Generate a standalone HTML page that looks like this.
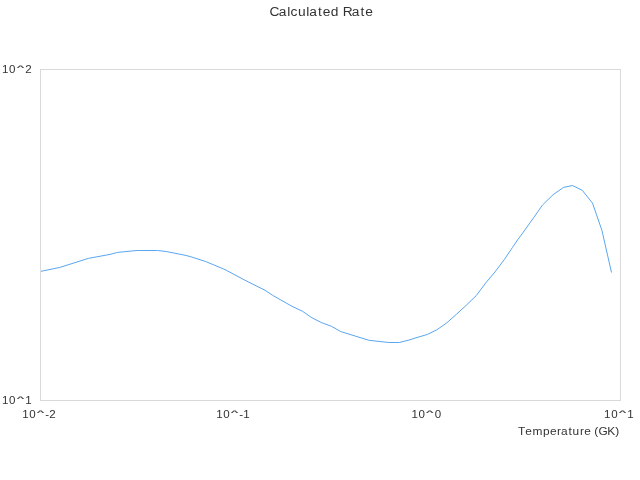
<!DOCTYPE html>
<html><head><meta charset="utf-8"><title>Calculated Rate</title>
<style>
html,body{margin:0;padding:0;background:#fff;}
svg{display:block;font-family:"Liberation Sans",sans-serif;}
text{white-space:pre;}
</style></head>
<body>
<svg width="640" height="480" viewBox="0 0 640 480">
<rect x="0" y="0" width="640" height="480" fill="#ffffff"/>
<rect x="40.5" y="69.5" width="580" height="331" fill="none" stroke="#d9d9d9" stroke-width="1"/>
<polyline points="41,271.3 59.75,267.45 88.5,258.35 110,254.4 117.5,252.4 136.9,250.5 157.5,250.5 166.25,251.5 185,255.25 190,256.5 205.6,261.5 225,269.6 245,280.25 260,287.75 265,290.25 272.5,295.25 291.9,306.25 302.5,311.25 311.9,317.75 321.25,322.5 331.25,326.25 340.6,331.5 368.75,340.25 388.75,342.5 399.4,342.5 410,339.75 415,338.1 427.5,334.4 436.9,329.75 446.9,322.75 456.25,314.4 466.25,305.25 476.25,295.6 485.6,283.1 495,271.9 504.4,259.4 512.5,247.4 517.5,240 521.25,235 533.75,217.5 542.5,205 553.1,194.7 563.5,187.4 572.5,185.5 582.2,190.25 592.5,203.1 601.9,230.3 611.5,272.5" fill="none" stroke="#5aa6f0" stroke-width="1" stroke-linejoin="bevel"/>
<g fill="#333" style="filter:grayscale(1)">
<text font-size="13.26" transform="scale(1.040,1)" x="259.03 267.92 276.17 279.35 286.50 294.44 297.32 305.89 310.39 318.11 325.84 329.56 338.16 346.73 351.24" y="16.0">Calculated Rate</text>
<text font-size="11.55" x="2.01 9.07" y="73.0">10</text><text font-size="11" transform="translate(16.88,70.33) scale(1.362,0.651)" stroke="#333" stroke-width="0.25">^</text><text font-size="11.55" x="25.14" y="73.0">2</text>
<text font-size="11.55" x="2.01 9.07" y="404.0">10</text><text font-size="11" transform="translate(16.88,401.33) scale(1.362,0.651)" stroke="#333" stroke-width="0.25">^</text><text font-size="11.55" x="25.23" y="404.0">1</text>
<text font-size="11.55" x="22.14 29.19" y="418.0">10</text><text font-size="11" transform="translate(37.00,415.33) scale(1.362,0.651)" stroke="#333" stroke-width="0.25">^</text><text font-size="11.55" x="45.18 49.23" y="418.0">-2</text>
<text font-size="11.55" x="216.14 223.19" y="418.0">10</text><text font-size="11" transform="translate(231.00,415.33) scale(1.362,0.651)" stroke="#333" stroke-width="0.25">^</text><text font-size="11.55" x="239.18 243.32" y="418.0">-1</text>
<text font-size="11.55" x="411.42 418.48" y="418.0">10</text><text font-size="11" transform="translate(426.28,415.33) scale(1.362,0.651)" stroke="#333" stroke-width="0.25">^</text><text font-size="11.55" x="434.69" y="418.0">0</text>
<text font-size="11.55" x="604.12 611.18" y="418.0">10</text><text font-size="11" transform="translate(618.98,415.33) scale(1.362,0.651)" stroke="#333" stroke-width="0.25">^</text><text font-size="11.55" x="627.33" y="418.0">1</text>
<text font-size="11.22" transform="scale(1.060,1)" x="488.75 495.50 502.27 512.27 518.78 525.59 529.13 536.34 540.18 547.13 551.10 557.46 560.69 564.59 572.92 580.35" y="435.0">Temperature (GK)</text>
</g>
</svg>
</body></html>
